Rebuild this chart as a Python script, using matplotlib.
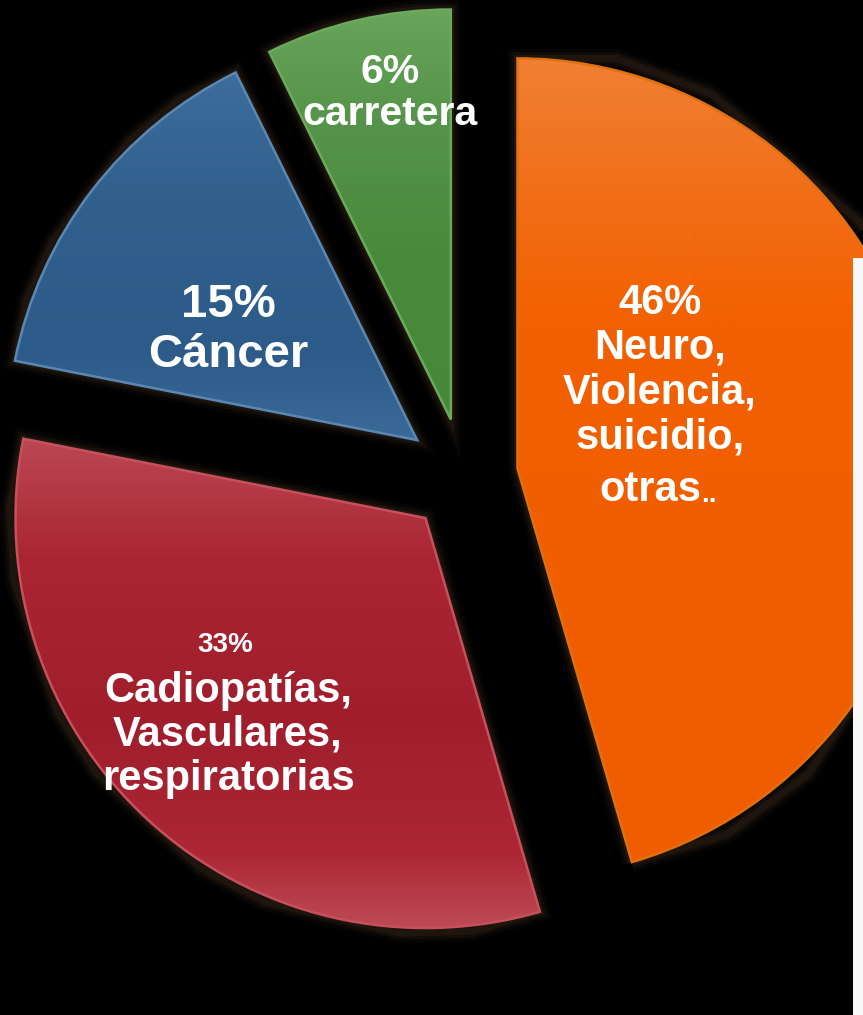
import numpy as np
import matplotlib.pyplot as plt
from matplotlib.colors import to_rgb
from matplotlib.patches import Rectangle

# partes medidas sobre el dibujo (en sentido horario desde arriba)
# orden: Neuro/Violencia, Cadiopatías, Cáncer, carretera
partes = [45.5, 32.6, 14.6, 7.3]
etiquetas = ["46%\nNeuro,\nViolencia,\nsuicidio,", "33%", "15%\nCáncer", "6%\ncarretera"]
colores = ["#F26200", "#A62230", "#2F5E8C", "#4A8A3C"]

# degradados verticales (y de imagen, color)
degradados = [
    [(40, "#F08238"), (230, "#F26A10"), (330, "#F26000"), (900, "#F05C00")],
    [(430, "#BC4A55"), (560, "#AA2533"), (720, "#A01E2C"), (850, "#AC2635"), (930, "#BE4C57")],
    [(60, "#3E6E9C"), (200, "#31608D"), (350, "#2D5B89"), (450, "#3C6C9A")],
    [(0, "#6AA65C"), (120, "#55944A"), (250, "#4A8A3C"), (430, "#478739")],
]
bordes = ["#E07010", "#C8505C", "#5A88B5", "#6AAA5C"]

W, H = 863, 1015
fig = plt.figure(figsize=(W / 100, H / 100), dpi=100, facecolor="black")
ax = fig.add_axes([0, 0, 1, 1])
ax.set_facecolor("black")

centro = (464, H - 476)
wedges, _ = ax.pie(partes, colors=colores, startangle=90, counterclock=False,
                   radius=410, center=centro, explode=[54, 57, 59, 58],
                   wedgeprops=dict(linewidth=0))

yy = np.arange(H)
for w, stops, borde in zip(wedges, degradados, bordes):
    ys = [s[0] for s in stops]
    cs = np.array([to_rgb(s[1]) for s in stops])
    img = np.stack([np.interp(yy, ys, cs[:, k]) for k in range(3)], axis=-1)[:, None, :]
    im = ax.imshow(img, extent=(0, W, 0, H), origin="upper", aspect="auto",
                   interpolation="bilinear", zorder=2)
    im.set_clip_path(w)
    # brillo suave alrededor
    for lw, a in [(14, 0.08), (9, 0.12), (5, 0.18)]:
        ax.add_patch(plt.Polygon(w.get_path().vertices, closed=True, fill=False,
                                 transform=w.get_transform(),
                                 edgecolor="#5a4030", linewidth=lw, alpha=a, zorder=1))
    w.set_zorder(3)
    w.set_facecolor("none")
    w.set_edgecolor(borde)
    w.set_linewidth(1.8)

fuente = "Liberation Sans"
ax.text(660, H - 370, etiquetas[0], ha="center", va="center", fontsize=30,
        fontweight="bold", color="white", family=fuente, linespacing=1.16, zorder=5)
ax.text(650, H - 490, "otras", ha="center", va="center", fontsize=30,
        fontweight="bold", color="white", family=fuente, zorder=5)
ax.text(701, H - 495, "..", ha="left", va="center", fontsize=20,
        fontweight="bold", color="white", family=fuente, zorder=5)

ax.text(225, H - 645, etiquetas[1], ha="center", va="center", fontsize=20,
        fontweight="bold", color="white", family=fuente, zorder=5)
ax.text(228, H - 735, "Cadiopatías,\nVasculares,\nrespiratorias", ha="center",
        va="center", fontsize=30, fontweight="bold", color="white", family=fuente,
        linespacing=1.14, zorder=5)

ax.text(228, H - 330, etiquetas[2], ha="center", va="center", fontsize=34,
        fontweight="bold", color="white", family=fuente, linespacing=1.2, zorder=5)
ax.text(390, H - 93, etiquetas[3], ha="center", va="center", fontsize=29.5,
        fontweight="bold", color="white", family=fuente, linespacing=1.12, zorder=5)

ax.set_xlim(0, W)
ax.set_ylim(0, H)
ax.set_aspect("auto")
ax.axis("off")

# franja blanca del borde derecho
fig.patches.append(Rectangle((853 / W, 0), 1 - 853 / W, (H - 258) / H,
                             transform=fig.transFigure, facecolor="#F8F8F8",
                             edgecolor="none", zorder=10))

fig.savefig("out.png", dpi=100, facecolor="black")
